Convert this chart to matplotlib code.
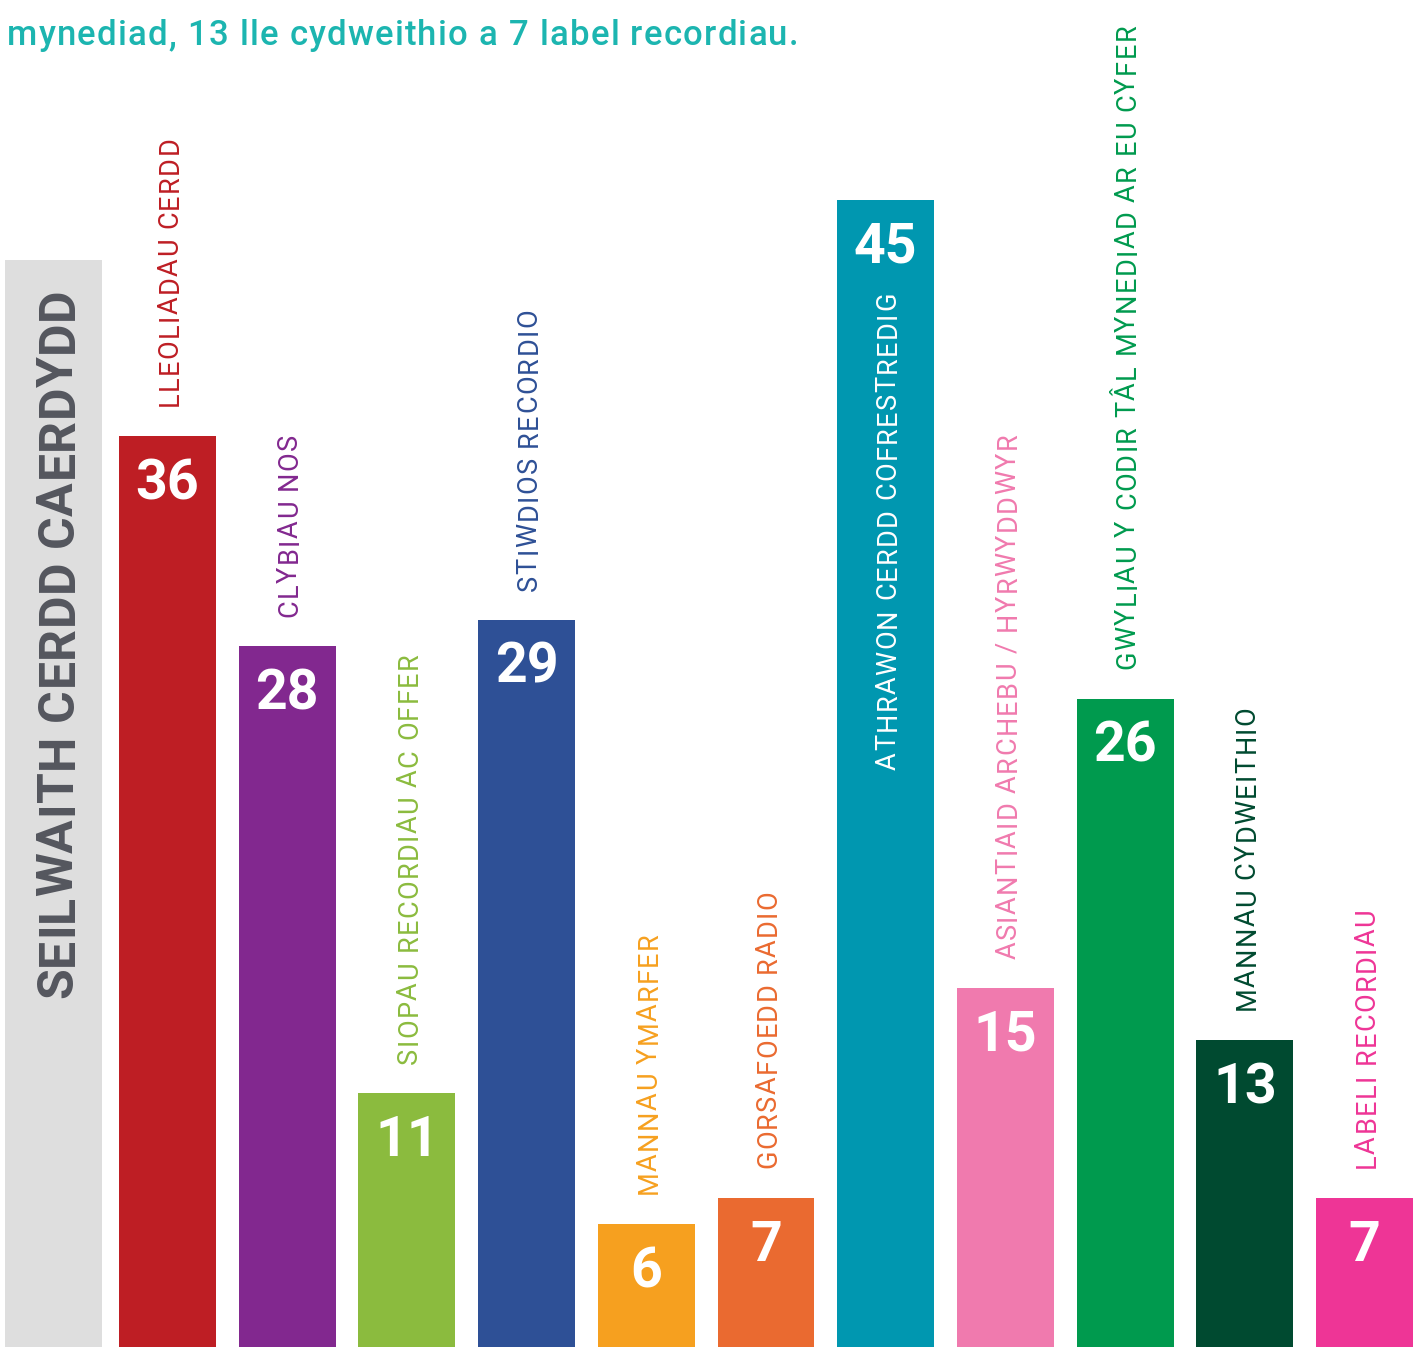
import matplotlib
matplotlib.use("Agg")
import matplotlib.pyplot as plt
from matplotlib.font_manager import FontProperties, findfont, get_font
import numpy as np

# ---------------- data ----------------
categories = [
    "LLEOLIADAU CERDD",
    "CLYBIAU NOS",
    "SIOPAU RECORDIAU AC OFFER",
    "STIWDIOS RECORDIO",
    "MANNAU YMARFER",
    "GORSAFOEDD RADIO",
    "ATHRAWON CERDD COFRESTREDIG",
    "ASIANTIAID ARCHEBU / HYRWYDDWYR",
    "GWYLIAU Y CODIR TÂL MYNEDIAD AR EU CYFER",
    "MANNAU CYDWEITHIO",
    "LABELI RECORDIAU",
]
values = [36, 28, 11, 29, 6, 7, 45, 15, 26, 13, 7]
colors = ["#be1e24", "#82288f", "#8bbb3e", "#2e5096", "#f6a01f", "#ea6a30",
          "#0097b0", "#f07aae", "#009a4e", "#004a30", "#ee3596"]
header_label = "SEILWAITH CERDD CAERDYDD"
header_value = 42.7
title_line = "mynediad, 13 lle cydweithio a 7 label recordiau."
inside_index = 6  # label drawn inside the tallest bar

# ---------------- figure ----------------
W, H = 1422, 1347
DPI = 100
fig = plt.figure(figsize=(W / DPI, H / DPI), dpi=DPI)
ax = fig.add_axes([0, 0, 1, 1])
ax.set_xlim(-1.399, 10.48)
ax.set_ylim(1.32, 52.6)
ax.axis("off")

x = np.arange(len(values))
ax.bar([-0.952], [header_value], width=0.81, color="#dedede", linewidth=0)
ax.bar(x, values, width=0.81, color=colors, linewidth=0)

FONT = ["Roboto", "DejaVu Sans"]

try:
    from matplotlib.ft2font import Kerning
    KERN_MODE = Kerning.DEFAULT
except Exception:
    KERN_MODE = 0


def to_px(xd, yd):
    return ax.transData.transform((xd, yd))


def glyph_metrics(s, fp):
    font = get_font(findfont(fp))
    font.set_size(fp.get_size_in_points(), DPI)
    adv, bear, kern = [], [], []
    prev = None
    for ch in s:
        idx = font.get_char_index(ord(ch))
        k = 0.0
        if prev is not None:
            try:
                k = font.get_kerning(prev, idx, KERN_MODE) / 64.0
            except Exception:
                k = 0.0
        g = font.load_char(ord(ch))
        adv.append(g.linearHoriAdvance / 65536.0)
        bear.append(g.horiBearingX / 64.0)
        kern.append(k)
        prev = idx
    return adv, bear, kern


def cap_height(fp):
    font = get_font(findfont(fp))
    font.set_size(fp.get_size_in_points(), DPI)
    g = font.load_char(ord("H"))
    return g.height / 64.0


def layout(s, fp, track=0.0, length=None):
    adv, bear, kern = glyph_metrics(s, fp)
    natural = sum(adv[:-1]) + sum(kern)
    if length is not None:
        track = (length - natural - adv[-1] * 0.85) / (len(s) - 1)
    pos, p = [], 0.0
    for a, k in zip(adv, kern):
        p += k
        pos.append(p)
        p += a + track
    return pos, bear, pos[-1] + adv[-1]


def vertical_text(s, cx_px, y0_px, fp, color, track=0.0, length=None, anchor="start"):
    """Text reading bottom-to-top, centred on cx_px, starting at y0_px (display px)."""
    pos, bear, total = layout(s, fp, track, length)
    if anchor == "end":
        y0_px = y0_px - total
    xb = cx_px + cap_height(fp) / 2.0
    for ch, p, b in zip(s, pos, bear):
        if ch == " ":
            continue
        # rotated glyphs are placed by their ink edge, so add the side bearing
        fig.text(xb / W, (y0_px + p + b) / H, ch, fontproperties=fp, color=color,
                 rotation=90, rotation_mode="anchor", ha="left", va="baseline")


def horizontal_text(s, x0_px, yb_px, fp, color, track=0.0, length=None):
    pos, bear, total = layout(s, fp, track, length)
    for ch, p in zip(s, pos):
        if ch == " ":
            continue
        fig.text((x0_px + p) / W, yb_px / H, ch, fontproperties=fp, color=color,
                 ha="left", va="baseline")


label_fp = FontProperties(family=FONT, size=19.5)
num_fp = FontProperties(family=FONT, size=40, weight="bold")
head_fp = FontProperties(family=FONT, size=36, weight="bold")
title_fp = FontProperties(family=FONT, size=25, weight="medium")

PX_TOP_GAP = 28     # gap between bar top and label start
NUM_BASE = 63       # baseline of value below bar top
LABEL_TRACK = 1.4

for i, (cat, v, c) in enumerate(zip(categories, values, colors)):
    cx, ytop = to_px(x[i], v)
    fig.text(cx / W, (ytop - NUM_BASE) / H, str(v), fontproperties=num_fp,
             color="white", ha="center", va="baseline")
    if i == inside_index:
        vertical_text(cat, cx, ytop - 94, label_fp, "white", LABEL_TRACK, anchor="end")
    else:
        vertical_text(cat, cx, ytop + PX_TOP_GAP, label_fp, c, LABEL_TRACK)

# header label in the grey bar
hx, _ = to_px(-0.952, 0)
vertical_text(header_label, hx + 1, H - 1000, head_fp, "#54565e", length=705)

# title line (top, partially cut in the original)
horizontal_text(title_line, 7, H - 45, title_fp, "#1cb5b0", length=790)

fig.savefig("out.png", dpi=DPI)
